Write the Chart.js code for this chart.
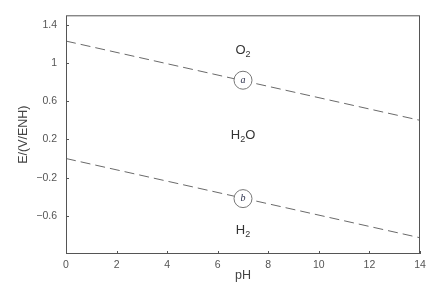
<!DOCTYPE html>
<html lang="es">
<head>
<meta charset="utf-8"/>
<title>Diagrama E-pH del agua</title>
<script src="https://cdn.jsdelivr.net/npm/chart.js"></script>
<style>
  body { margin: 0; background: #fff; }
  canvas { display: block; }
</style>
</head>
<body>
<canvas id="chart" width="431" height="286"></canvas>
<script>
// datos
var phPoints = [0, 14];
var lineA = [1.23, 0.40];
var lineB = [0.00, -0.83];
var yTicks = [1.4, 1, 0.6, 0.2, -0.2, -0.6];
var xTicks = [0, 2, 4, 6, 8, 10, 12, 14];
var markerPh = [7, 7];
var markerE = [0.82, -0.42];
var markerText = ['a', 'b'];
var regionPh = [7, 7, 7];
var regionE = [1.13, 0.24, -0.75];
var regionMain = [['O', '2'], ['H', '2', 'O'], ['H', '2']];

var axisColor = '#555';

function fmt(v) {
    var s = String(Math.round(v * 10) / 10);
    return s.replace('-', '\u2212');
}

var boxPlugin = {
    id: 'box',
    afterDraw: function (chart) {
        var ctx = chart.ctx;
        var a = chart.chartArea;
        var xs = chart.scales.x, ys = chart.scales.y;
        ctx.save();
        ctx.strokeStyle = axisColor;
        ctx.lineWidth = 1;
        ctx.strokeRect(a.left + 0.5, a.top + 0.5, a.right - a.left - 1, a.bottom - a.top - 1);
        // marcas hacia dentro
        ctx.beginPath();
        xTicks.forEach(function (t) {
            var px = Math.round(xs.getPixelForValue(t)) + 0.5;
            ctx.moveTo(px, a.bottom);
            ctx.lineTo(px, a.bottom - 3);
        });
        yTicks.forEach(function (t) {
            var py = Math.round(ys.getPixelForValue(t)) + 0.5;
            ctx.moveTo(a.left, py);
            ctx.lineTo(a.left + 3, py);
        });
        ctx.stroke();

        // letras en los círculos
        ctx.fillStyle = '#2a2f4a';
        ctx.font = 'italic 10px "Liberation Serif", serif';
        ctx.textAlign = 'center';
        ctx.textBaseline = 'middle';
        for (var i = 0; i < markerText.length; i++) {
            ctx.fillText(markerText[i], xs.getPixelForValue(markerPh[i]), ys.getPixelForValue(markerE[i]));
        }

        // etiquetas de las regiones con subíndices
        ctx.fillStyle = '#333';
        for (var j = 0; j < regionMain.length; j++) {
            var parts = regionMain[j];
            var big = '13px "Liberation Sans", Arial, sans-serif';
            var small = '9px "Liberation Sans", Arial, sans-serif';
            var widths = parts.map(function (p, k) {
                ctx.font = (k % 2 === 1) ? small : big;
                return ctx.measureText(p).width;
            });
            var total = widths.reduce(function (s, w) { return s + w; }, 0);
            var x = xs.getPixelForValue(regionPh[j]) - total / 2;
            var y = ys.getPixelForValue(regionE[j]);
            ctx.textAlign = 'left';
            ctx.textBaseline = 'middle';
            parts.forEach(function (p, k) {
                ctx.font = (k % 2 === 1) ? small : big;
                ctx.fillText(p, x, (k % 2 === 1) ? y + 4 : y);
                x += widths[k];
            });
        }
        ctx.restore();
    }
};

new Chart(document.getElementById('chart'), {
    type: 'scatter',
    data: {
        datasets: [
            {
                data: phPoints.map(function (p, i) { return { x: p, y: lineA[i] }; }),
                order: 2,
                showLine: true,
                borderColor: '#6a6a6a',
                borderWidth: 1,
                borderDash: [10, 5],
                pointRadius: 0
            },
            {
                data: phPoints.map(function (p, i) { return { x: p, y: lineB[i] }; }),
                order: 2,
                showLine: true,
                borderColor: '#6a6a6a',
                borderWidth: 1,
                borderDash: [10, 5],
                pointRadius: 0
            },
            {
                data: markerPh.map(function (p, i) { return { x: p, y: markerE[i] }; }),
                order: 1,
                showLine: false,
                pointRadius: 9,
                pointBackgroundColor: '#fff',
                pointBorderColor: '#777',
                pointBorderWidth: 1
            }
        ]
    },
    options: {
        responsive: false,
        animation: false,
        events: [],
        layout: { padding: { top: 3, right: 11, left: 0, bottom: 0 } },
        plugins: { legend: { display: false }, tooltip: { enabled: false } },
        scales: {
            x: {
                type: 'linear',
                min: 0,
                max: 14,
                afterBuildTicks: function (s) { s.ticks = xTicks.map(function (v) { return { value: v }; }); },
                afterFit: function (s) { s.height = 32; },
                grid: { display: false, drawTicks: false },
                border: { display: false },
                ticks: {
                    padding: 5,
                    color: '#555',
                    font: { family: '"Liberation Sans", Arial, sans-serif', size: 10.5 },
                    callback: function (v) { return fmt(v); }
                },
                title: {
                    display: true,
                    text: 'pH',
                    color: '#444',
                    font: { family: '"Liberation Sans", Arial, sans-serif', size: 12.5 },
                    padding: { top: 0, bottom: 3 }
                }
            },
            y: {
                type: 'linear',
                min: -1.0,
                max: 1.5,
                afterBuildTicks: function (s) { s.ticks = yTicks.map(function (v) { return { value: v }; }); },
                afterFit: function (s) { s.width = 66; },
                grid: { display: false, drawTicks: false },
                border: { display: false },
                ticks: {
                    padding: 9,
                    color: '#555',
                    font: { family: '"Liberation Sans", Arial, sans-serif', size: 10.5 },
                    callback: function (v) { return fmt(v); }
                },
                title: {
                    display: true,
                    text: 'E/(V/ENH)',
                    color: '#444',
                    font: { family: '"Liberation Sans", Arial, sans-serif', size: 12.5 },
                    padding: { top: 16, bottom: 0 }
                }
            }
        }
    },
    plugins: [boxPlugin]
});
</script>
</body>
</html>
